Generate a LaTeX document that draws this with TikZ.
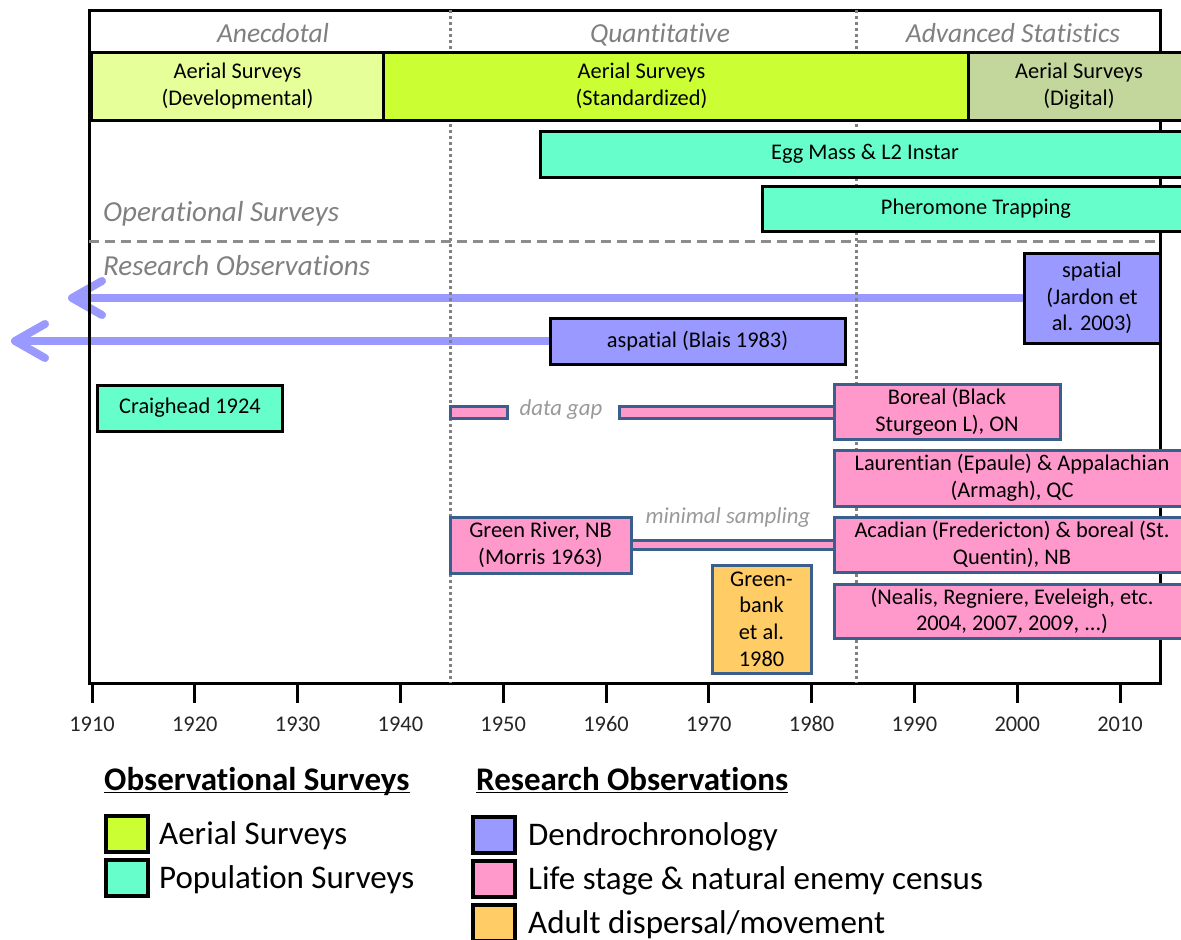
\documentclass[tikz,border=0pt]{standalone}
\usepackage{fontspec}
\setmainfont{Carlito}[Ligatures={NoCommon}]
\usepackage{tikz}
\usetikzlibrary{arrows.meta,positioning}
\pgfdeclarelayer{back}
\pgfsetlayers{back,main}

\definecolor{aerialdev}{HTML}{E6FF99}
\definecolor{aerialstd}{HTML}{CCFF33}
\definecolor{aerialdig}{HTML}{C3D69B}
\definecolor{popaqua}{HTML}{66FFCC}
\definecolor{dendro}{HTML}{9999FF}
\definecolor{lifepink}{HTML}{FF99CC}
\definecolor{adultorange}{HTML}{FFCC66}
\definecolor{pinkedge}{HTML}{3A5F8D}

\tikzstyle{databox}=[draw=black, line width=3bp, inner sep=0pt, outer sep=0pt,
        align=center, font=\fontsize{22.4bp}{26.7bp}\selectfont]
\tikzstyle{lifebox}=[databox, draw=pinkedge, fill=lifepink]
\tikzstyle{eratext}=[font=\fontsize{27.5bp}{30bp}\selectfont\itshape,
        text=black!50, inner sep=0pt, anchor=base]
\tikzstyle{parttext}=[font=\fontsize{29bp}{32bp}\selectfont\itshape,
        text=black!50, inner sep=0pt, anchor=base west]
\tikzstyle{notetext}=[font=\fontsize{22.8bp}{26bp}\selectfont\itshape,
        text=black!40, inner sep=0pt, anchor=base]
\tikzstyle{ticktext}=[font=\fontsize{22.4bp}{26bp}\selectfont,
        text=black!85, inner sep=0pt, anchor=base]
\tikzstyle{eraline}=[draw=black!50, line width=3bp, dash pattern=on 3bp off 3bp]
\tikzstyle{reach}=[draw=dendro, line width=8bp,
        -{Straight Barb[length=30bp, width=34bp, line cap=round, line join=round]}]
\tikzstyle{keybox}=[draw=black, line width=4bp, minimum width=42bp,
        minimum height=36bp, inner sep=0pt, outer sep=0pt]
\tikzstyle{keytext}=[font=\fontsize{33bp}{36bp}\selectfont, inner sep=0pt,
        text height=21bp, text depth=0bp]
\tikzstyle{keyhead}=[font=\fontsize{33bp}{36bp}\selectfont\bfseries,
        inner sep=0pt, anchor=base west]

\begin{document}
\begin{tikzpicture}[x=1bp, y=-1bp]
        \useasboundingbox (0,0) rectangle (1181,940);

        % frame, eras and time axis
        \draw[line width=3bp] (89,10) rectangle (1160,683);
        \draw[eraline] (450,10) -- (450,683);
        \draw[eraline] (856,10) -- (856,683);
        \draw[draw=black!45, line width=3.5bp, dash pattern=on 10bp off 6bp]
            (89,241.5) -- (1160,241.5);
        \foreach \yr in {1910,1920,...,2010} {
            \draw[line width=3bp] ({92+(\yr-1910)*10.28},683) -- ++(0,20);
            \node[ticktext] (y\yr) at ({92+(\yr-1910)*10.28},731) {\yr};
        }

        \node[eratext] (e1) at (273,42) {Anecdotal};
        \node[eratext] (e2) at (660,42) {Quantitative};
        \node[eratext] (e3) at (1013,42) {Advanced Statistics};
        \node[parttext] (p1) at (103,221) {Operational Surveys};
        \node[parttext] (p2) at (103,275) {Research Observations};

        % operational surveys
        \node[databox, fill=aerialdev, minimum width=291bp, minimum height=68bp]
            (0) at (237.5,86) {Aerial Surveys\\(Developmental)};
        \node[databox, fill=aerialstd, minimum width=585bp, minimum height=68bp]
            (1) at (675.5,86) {Aerial Surveys\hspace*{68bp}\\(Standardized)\hspace*{68bp}};
        \node[databox, fill=aerialdig, minimum width=222bp, minimum height=68bp]
            (2) at (1079,86) {Aerial Surveys\\(Digital)};
        \node[databox, fill=popaqua, minimum width=650bp, minimum height=46bp]
            (3) at (865,154) {Egg Mass \& L2 Instar};
        \node[databox, fill=popaqua, minimum width=428bp, minimum height=45bp]
            (4) at (976,208.5) {Pheromone Trapping};

        % research observations
        \node[databox, fill=dendro, minimum width=136bp, minimum height=90bp]
            (5) at (1092,298) {spatial\\(Jardon et\\al. 2003)};
        \node[databox, fill=dendro, minimum width=295bp, minimum height=46bp]
            (6) at (697.5,341) {aspatial (Blais 1983)};
        \node[databox, fill=popaqua, minimum width=184bp, minimum height=46bp]
            (7) at (190,408) {Craighead 1924};
        \node[lifebox, minimum width=57bp, minimum height=12bp] (8) at (478.5,412) {};
        \node[lifebox, minimum width=215bp, minimum height=12bp] (9) at (726.5,412) {};
        \node[lifebox, minimum width=226bp, minimum height=55bp]
            (10) at (947,411.5) {Boreal (Black\\Sturgeon L), ON};
        \node[lifebox, minimum width=356bp, minimum height=56bp]
            (11) at (1012,478) {Laurentian (Epaule) \& Appalachian\\(Armagh), QC};
        \node[lifebox, minimum width=356bp, minimum height=55bp]
            (12) at (1012,544.5) {Acadian (Fredericton) \& boreal (St.\\Quentin), NB};
        \node[lifebox, minimum width=181bp, minimum height=56bp]
            (13) at (540.5,545) {Green River, NB\\(Morris 1963)};
        \node[databox, draw=pinkedge, fill=adultorange, minimum width=99bp, minimum height=108bp]
            (14) at (761.5,619) {Green-\\bank\\et al.\\1980};
        \node[lifebox, minimum width=356bp, minimum height=54bp]
            (15) at (1012,611) {(Nealis, Regniere, Eveleigh, etc.\\2004, 2007, 2009, ...)};
        \node[notetext] (16) at (561,415) {data gap};
        \node[notetext] (17) at (728,523) {minimal sampling};

        \coordinate (a1) at (68,298);
        \coordinate (a2) at (11,341);
        \begin{pgfonlayer}{back}
            \draw[reach] (5.west) -- (a1);
            \draw[reach] (6.west) -- (a2);
            \draw[draw=pinkedge, double=lifepink, double distance=6bp, line width=3bp]
                (13.east) -- (13.east -| 12.west);
        \end{pgfonlayer}

        % legend
        \node[keyhead] (20) at (104,790) {Observational Surveys};
        \node[keyhead] (21) at (476,790) {Research Observations};
        \draw[line width=1.6bp] ([yshift=-2.5bp]20.base west) -- ([yshift=-2.5bp]20.base east);
        \draw[line width=1.6bp] ([yshift=-2.5bp]21.base west) -- ([yshift=-2.5bp]21.base east);

        \node[keybox, fill=aerialstd] (22) at (127,834) {};
        \node[keybox, fill=popaqua, below=8bp of 22] (23) {};
        \node[keybox, fill=dendro] (24) at (494,834.5) {};
        \node[keybox, fill=lifepink, below=8bp of 24] (25) {};
        \node[keybox, fill=adultorange, below=8bp of 25] (26) {};

        \node[keytext, right=11bp of 22] (27) {Aerial Surveys};
        \node[keytext, right=11bp of 23] (28) {Population Surveys};
        \node[keytext, right=13bp of 24] (29) {Dendrochronology};
        \node[keytext, right=13bp of 25] (30) {Life stage \& natural enemy census};
        \node[keytext, right=13bp of 26] (31) {Adult dispersal/movement};
    \end{tikzpicture}
\end{document}
